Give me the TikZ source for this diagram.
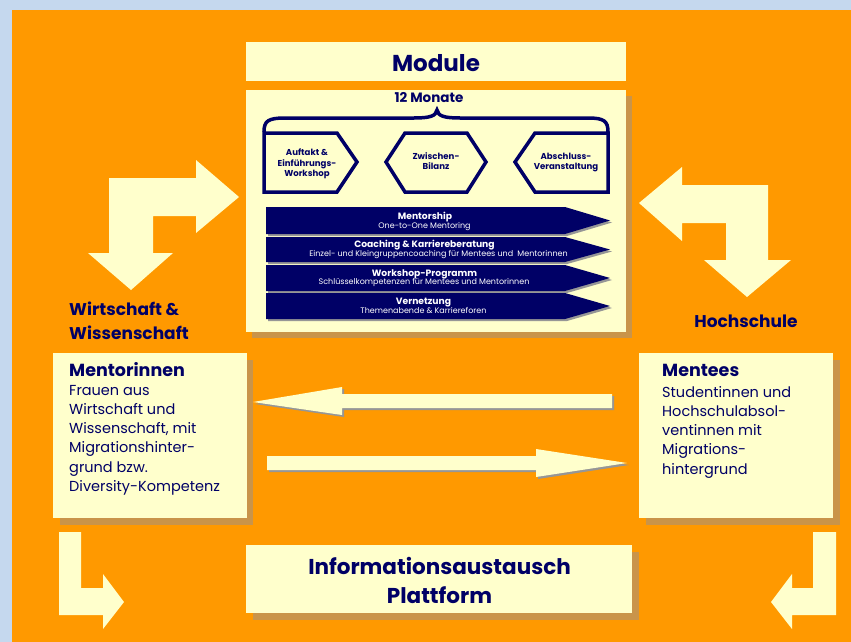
\documentclass[tikz,border=0pt]{standalone}
\usepackage{fontspec}
\setmainfont{Poppins}
\definecolor{bgblue}{RGB}{197,216,238}
\definecolor{orng}{RGB}{255,153,0}
\definecolor{cream}{RGB}{255,255,204}
\definecolor{navy}{RGB}{0,0,102}
\definecolor{shad}{RGB}{201,148,74}
\definecolor{gshad}{RGB}{150,150,150}
\tikzset{
  box/.style={fill=cream, draw=none},
  shadowbox/.style={fill=shad, draw=none},
  fat/.style={fill=cream, draw=none},
  hexa/.style={draw=navy, line width=3.5pt, line join=miter, fill=cream},
  bar/.style={fill=navy, draw=none},
  hextxt/.style={text=navy, font=\bfseries\fontsize{8.6}{10.5}\selectfont, align=center, inner sep=0pt},
  bartitle/.style={text=white, font=\bfseries\fontsize{9.2}{10}\selectfont, inner sep=0pt, anchor=base},
  barsub/.style={text=white, font=\fontsize{8}{9}\selectfont, inner sep=0pt, anchor=base},
  lbl/.style={text=navy, font=\bfseries\fontsize{17}{24}\selectfont, align=left, inner sep=0pt},
  ttl/.style={text=navy, font=\bfseries\fontsize{17.5}{20}\selectfont, inner sep=0pt, anchor=base west},
  body/.style={text=navy, font=\fontsize{14.5}{19.2}\selectfont, align=left, inner sep=0pt, anchor=north west},
  big/.style={text=navy, font=\bfseries\fontsize{21.5}{29}\selectfont, inner sep=0pt, anchor=base},
}
\begin{document}
\begin{tikzpicture}[x=1pt,y=-1pt]
\useasboundingbox (0,0) rectangle (851,642);
% background
\fill[bgblue] (0,0) rectangle (851,642);
\fill[orng] (12,10) rectangle (851,642);

% Module header
\fill[box] (246,42) rectangle (626,81);
\node[big, font=\bfseries\fontsize{23}{26}\selectfont] (module) at (436,71) {Module};

% main box
\fill[shadowbox] (252,96) rectangle (632,338);
\fill[box] (246,90) rectangle (626,332);
\node[text=navy, font=\bfseries\fontsize{13.5}{15}\selectfont, inner sep=0pt, anchor=base] (monate) at (429,102.5) {12 Monate};
\draw[navy, line width=3.5pt] (264,132) .. controls (264,121) and (268,118) .. (285,118) -- (414,118) .. controls (430,118) and (436,116) .. (437,110) .. controls (438,116) and (444,118) .. (460,118) -- (588,118) .. controls (604,118) and (608,121) .. (608,132);

% phase shapes
\draw[hexa] (264,133) -- (337,133) -- (357,162) -- (337,192) -- (264,192) -- cycle;
\draw[hexa] (386,162) -- (405,133) -- (467,133) -- (486,162) -- (467,192) -- (405,192) -- cycle;
\draw[hexa] (515,162) -- (535,133) -- (608,133) -- (608,192) -- (535,192) -- cycle;
\node[hextxt] (auftakt) at (307,164) {Auftakt \&\\Einführungs-\\Workshop};
\node[hextxt] (zwischen) at (436,161) {Zwischen-\\Bilanz};
\node[hextxt] (abschluss) at (566,162.5) {Abschluss-\\Veranstaltung};

% bars
\foreach \t/\b in {207/234, 237/262, 265/291, 293/319}{
  \fill[gshad] (268,\t+2) -- (567,\t+2) -- (612,{(\t+\b)/2+2}) -- (567,\b+2) -- (268,\b+2) -- cycle;
  \fill[bar] (266,\t) -- (565,\t) -- (610,{(\t+\b)/2}) -- (565,\b) -- (266,\b) -- cycle;
}
\node[bartitle] (t1) at (425,219.5) {Mentorship};
\node[barsub] (s1) at (424.5,228.5) {One-to-One Mentoring};
\node[bartitle] (t2) at (424.5,247.5) {Coaching \& Karriereberatung};
\node[barsub] (s2) at (438.5,256.5) {Einzel- und Kleingruppencoaching für Mentees und\ \ Mentorinnen};
\node[bartitle] (t3) at (424.5,276) {Workshop-Programm};
\node[barsub] (s3) at (424,284.5) {Schlüsselkompetenzen für Mentees und Mentorinnen};
\node[bartitle] (t4) at (423.5,304.5) {Vernetzung};
\node[barsub] (s4) at (423.5,313) {Themenabende \& Karriereforen};

% top-left L arrow
\fill[fat] (109,178) -- (196,178) -- (196,160) -- (239,197) -- (196,233) -- (196,216) -- (153,216) -- (153,253) -- (173,253) -- (131,290) -- (88,253) -- (109,253) -- cycle;
% top-right L arrow
\fill[fat] (768,185) -- (682,185) -- (682,167) -- (639,203) -- (682,241) -- (682,223) -- (726,223) -- (726,260) -- (704,260) -- (747,297) -- (791,260) -- (768,260) -- cycle;

\node[lbl, anchor=north west] (wirt) at (69,302) {Wirtschaft \&\\Wissenschaft};
\node[lbl, anchor=base] (hoch) at (746,327) {Hochschule};

% Mentorinnen box
\fill[shadowbox] (60,360) rectangle (253,525);
\fill[box] (53,353) rectangle (247,518);
\node[ttl] (mentorinnen) at (69,376) {Mentorinnen};
\node[body] (mentorinnentxt) at (69,385) {Frauen aus\\Wirtschaft und\\Wissenschaft, mit\\Migrationshinter-\\grund bzw.\\Diversity-Kompetenz};

% Mentees box
\fill[shadowbox] (646,360) rectangle (840,525);
\fill[box] (639,353) rectangle (833,518);
\node[ttl] (mentees) at (662,376) {Mentees};
\node[body] (menteestxt) at (662,386) {Studentinnen und\\Hochschulabsol-\\ventinnen mit\\Migrations-\\hintergrund};

% horizontal exchange arrows
\fill[gshad] (255,404) -- (344,389) -- (344,396) -- (614,396) -- (614,410) -- (344,410) -- (344,417) -- cycle;
\fill[fat] (253,402) -- (342,387) -- (342,394) -- (612,394) -- (612,408) -- (342,408) -- (342,415) -- cycle;
\fill[gshad] (269,458) -- (538,458) -- (538,451) -- (629,465) -- (538,479) -- (538,472) -- (269,472) -- cycle;
\fill[fat] (267,456) -- (536,456) -- (536,449) -- (627,463) -- (536,477) -- (536,470) -- (267,470) -- cycle;

% bottom L arrows
\fill[fat] (59,532) -- (81,532) -- (81,588) -- (103,588) -- (103,574) -- (124,602) -- (103,629) -- (103,615) -- (59,615) -- cycle;
\fill[fat] (836,532) -- (813,532) -- (813,588) -- (792,588) -- (792,574) -- (771,602) -- (792,629) -- (792,615) -- (836,615) -- cycle;

% platform box
\fill[shadowbox] (253,552) rectangle (639,620);
\fill[box] (246,545) rectangle (632,613);
\node[big] (platform1) at (439.5,574) {Informationsaustausch};
\node[big] (platform2) at (439.5,603) {Plattform};
\end{tikzpicture}
\end{document}
